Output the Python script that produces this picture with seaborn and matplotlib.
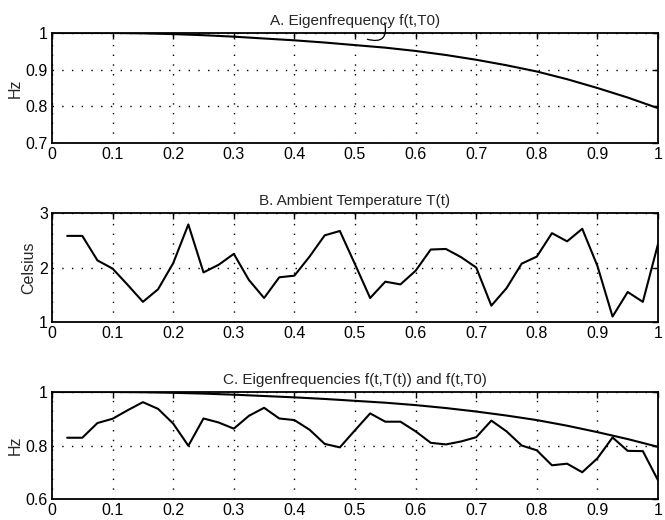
import numpy as np
import pandas as pd
import matplotlib
matplotlib.use("Agg")
import matplotlib.pyplot as plt
import seaborn as sns

# f(t, T0): eigenfrequency at the reference temperature
t_ref = [0.0, 0.05, 0.1, 0.15, 0.2, 0.25, 0.3, 0.35, 0.4, 0.45, 0.5,
         0.55, 0.6, 0.65, 0.7, 0.75, 0.8, 0.85, 0.9, 0.95, 1.0]
f_ref = [1.0, 1.0, 1.0, 0.999, 0.997, 0.994, 0.99, 0.985, 0.98, 0.974, 0.967,
         0.96, 0.951, 0.94, 0.927, 0.912, 0.895, 0.874, 0.85, 0.824, 0.795]

# sampled time points for the temperature and the resulting eigenfrequency
t_samp = [0.025, 0.05, 0.075, 0.1, 0.125, 0.15, 0.175, 0.2, 0.225, 0.25,
          0.275, 0.3, 0.325, 0.35, 0.375, 0.4, 0.425, 0.45, 0.475, 0.5,
          0.525, 0.55, 0.575, 0.6, 0.625, 0.65, 0.675, 0.7, 0.725, 0.75,
          0.775, 0.8, 0.825, 0.85, 0.875, 0.9, 0.925, 0.95, 0.975, 1.0]

temp = [2.58, 2.58, 2.13, 1.98, 1.68, 1.37, 1.60, 2.08, 2.79, 1.91,
        2.05, 2.25, 1.77, 1.44, 1.82, 1.85, 2.20, 2.59, 2.67, 2.06,
        1.44, 1.74, 1.69, 1.94, 2.33, 2.34, 2.19, 2.00, 1.30, 1.62,
        2.07, 2.20, 2.63, 2.48, 2.71, 2.03, 1.10, 1.55, 1.37, 2.43]

f_temp = [0.829, 0.829, 0.884, 0.900, 0.932, 0.962, 0.937, 0.882, 0.799, 0.901,
          0.886, 0.863, 0.911, 0.941, 0.901, 0.895, 0.859, 0.806, 0.793, 0.857,
          0.920, 0.889, 0.889, 0.853, 0.810, 0.804, 0.815, 0.831, 0.893, 0.853,
          0.800, 0.782, 0.726, 0.732, 0.700, 0.752, 0.830, 0.780, 0.779, 0.670]

x_ticks = [0, 0.1, 0.2, 0.3, 0.4, 0.5, 0.6, 0.7, 0.8, 0.9, 1]
x_labels = ["0", "0.1", "0.2", "0.3", "0.4", "0.5", "0.6", "0.7", "0.8", "0.9", "1"]


def setup_style():
    sns.set_theme(style="white")
    plt.rcParams['font.family'] = ['Liberation Sans', 'DejaVu Sans']
    plt.rcParams['font.size'] = 11


def style_axes(ax, yticks, ylabels, ylim, ylabel, title):
    ax.set_xlim(0, 1)
    ax.set_ylim(*ylim)
    ax.set_xticks(x_ticks)
    ax.set_xticklabels(x_labels, fontsize=11.5)
    ax.set_yticks(yticks)
    ax.set_yticklabels(ylabels, fontsize=11.5)
    ax.set_xlabel("")
    ax.set_ylabel(ylabel, fontsize=11.5, labelpad=2)
    ax.set_title(title, fontsize=11, pad=6)
    ax.grid(True, color="black", linestyle=(0, (1, 6)), linewidth=1.0)
    ax.tick_params(direction="in", length=4, width=1, top=True, right=True,
                   colors="black", pad=3)
    for s in ax.spines.values():
        s.set_color("black")
        s.set_linewidth(1.3)
        s.set_visible(True)
    ax.set_facecolor("white")
    legend = ax.get_legend()
    if legend is not None:
        legend.remove()


def main():
    setup_style()
    fig = plt.figure(figsize=(6.65, 5.2), dpi=100)
    left, width = 52 / 665, 606 / 665
    ax_a = fig.add_axes([left, 1 - 143 / 520, width, 110 / 520])
    ax_b = fig.add_axes([left, 1 - 322 / 520, width, 109 / 520])
    ax_c = fig.add_axes([left, 1 - 499 / 520, width, 107 / 520])

    ref = pd.DataFrame({"t": t_ref, "f": f_ref})
    samp = pd.DataFrame({"t": t_samp, "T": temp, "f": f_temp})

    # A. eigenfrequency at T0
    sns.lineplot(data=ref, x="t", y="f", ax=ax_a, color="black", linewidth=1.5)
    style_axes(ax_a, [0.7, 0.8, 0.9, 1.0], ["0.7", "0.8", "0.9", "1"],
               (0.7, 1.0), "Hz", "A. Eigenfrequency f(t,T0)")
    ax_a.annotate("", xy=(0.516, 0.985), xycoords="data",
                  xytext=(0.548, 1.035), textcoords="data",
                  arrowprops=dict(arrowstyle="-", color="black", linewidth=0.9,
                                  connectionstyle="arc3,rad=-0.9"),
                  annotation_clip=False)

    # B. ambient temperature
    sns.lineplot(data=samp, x="t", y="T", ax=ax_b, color="black", linewidth=1.5)
    style_axes(ax_b, [1, 2, 3], ["1", "2", "3"], (1, 3), "Celsius",
               "B. Ambient Temperature T(t)")

    # C. both eigenfrequencies
    sns.lineplot(data=ref, x="t", y="f", ax=ax_c, color="black", linewidth=1.5)
    sns.lineplot(data=samp, x="t", y="f", ax=ax_c, color="black", linewidth=1.5)
    style_axes(ax_c, [0.6, 0.8, 1.0], ["0.6", "0.8", "1"], (0.6, 1.0), "Hz",
               "C. Eigenfrequencies f(t,T(t)) and f(t,T0)")

    fig.savefig("out.png", dpi=100)
    plt.close(fig)


if __name__ == "__main__":
    main()
